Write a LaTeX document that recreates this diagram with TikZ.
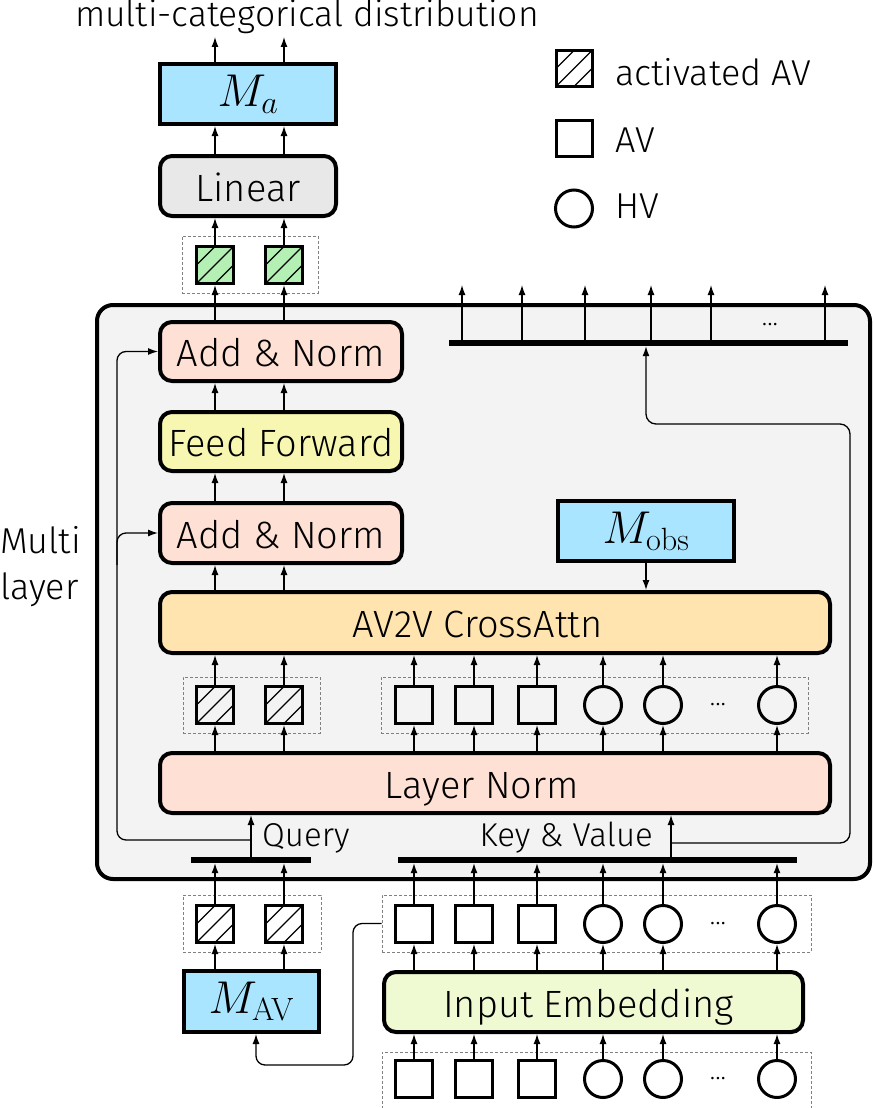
\RequirePackage{fix-cm}
\documentclass[tikz,border=0pt]{standalone}
\usepackage[no-math]{fontspec}
\setmainfont{Fira Sans Light}
\usetikzlibrary{arrows.meta,calc}
\definecolor{mblue}{HTML}{A9E5FF}
\definecolor{lingray}{HTML}{E8E8E8}
\definecolor{normpink}{HTML}{FFE0D5}
\definecolor{ffyellow}{HTML}{F7F7B2}
\definecolor{caorange}{HTML}{FFE4B0}
\definecolor{embgreen}{HTML}{F0FAD2}
\definecolor{hgreen}{HTML}{B4F0B4}
\definecolor{bgray}{HTML}{F3F3F3}
\newcommand{\boxfont}{\fontsize{38}{42}\selectfont}
\newcommand{\smallfont}{\fontsize{33}{38}\selectfont}
\newcommand{\mathfont}{\fontsize{46}{50}\selectfont}
\tikzset{
  blk/.style={draw, line width=4pt, rounded corners=12pt, inner sep=0pt, font=\boxfont, text height=30pt, text depth=0pt},
  mbox/.style={draw, line width=4pt, fill=mblue, inner sep=0pt, font=\mathfont},
  avsq/.style={draw, line width=3pt, minimum size=37pt, inner sep=0pt},
  hvc/.style={draw, circle, line width=3pt, minimum size=37pt, inner sep=0pt},
  actv/.style={avsq, path picture={
    \draw[line width=1.3pt] (path picture bounding box.south west) -- (path picture bounding box.north east);
    \draw[line width=1.3pt] ($(path picture bounding box.south west)!0.5!(path picture bounding box.north west)$) -- ($(path picture bounding box.north west)!0.5!(path picture bounding box.north east)$);
    \draw[line width=1.3pt] ($(path picture bounding box.south west)!0.5!(path picture bounding box.south east)$) -- ($(path picture bounding box.south east)!0.5!(path picture bounding box.north east)$);
  }},
  grp/.style={draw=gray, line width=0.8pt, dash pattern=on 3pt off 2pt, inner sep=0pt},
  arr/.style={line width=1.3pt, -{Latex[length=10pt,width=7pt]}},
  bar/.style={fill=black, inner sep=0pt, minimum height=6pt},
  dots/.style={font=\fontsize{26}{30}\selectfont, inner sep=0pt},
}
\begin{document}
\begin{tikzpicture}[x=1pt,y=-1pt]
\useasboundingbox (0,0) rectangle (874,1108);

% multi-layer container
\node[draw, line width=4pt, rounded corners=16pt, fill=bgray, minimum width=773pt, minimum height=574pt, inner sep=0pt] (ml) at (483.5,592) {};

% title and labels
\node[anchor=base, inner sep=0pt, font=\fontsize{35.5}{40}\selectfont] (title) at (307,27) {multi-categorical distribution};
\node[anchor=base west, inner sep=0pt, font=\fontsize{36}{40}\selectfont] (mlt1) at (0,553) {Multi};
\node[anchor=base west, inner sep=0pt, font=\fontsize{36}{40}\selectfont] (mlt2) at (0,599) {layer};

% legend
\node[actv, minimum size=36pt] (lg1) at (574,68.5) {};
\node[avsq, minimum size=36pt] (lg2) at (574,138) {};
\node[hvc, minimum size=37pt] (lg3) at (574,208.5) {};
\node[anchor=base west, inner sep=0pt, font=\fontsize{36}{40}\selectfont] (lt1) at (615,85) {activated AV};
\node[anchor=base west, inner sep=0pt, font=\fontsize{36}{40}\selectfont] (lt2) at (615,152) {AV};
\node[anchor=base west, inner sep=0pt, font=\fontsize{36}{40}\selectfont] (lt3) at (615,218) {HV};

% dashed groups
\node[grp, minimum width=136pt, minimum height=57pt] (gtop) at (250,264.5) {};
\node[grp, minimum width=137pt, minimum height=56pt] (gml) at (251.5,705) {};
\node[grp, minimum width=427pt, minimum height=56pt] (gmr) at (594.5,705) {};
\node[grp, minimum width=138pt, minimum height=57pt] (gbl) at (252,923.5) {};
\node[grp, minimum width=429pt, minimum height=57pt] (gbr) at (596.5,923.5) {};
\node[grp, minimum width=429pt, minimum height=63pt] (gin) at (596.5,1083.5) {};

% main blocks
\node[mbox, minimum width=176pt, minimum height=60pt] (ma) at (248,94) {$M_a$};
\node[blk, fill=lingray, minimum width=176pt, minimum height=60pt] (lin) at (248,186) {Linear};
\node[blk, fill=normpink, minimum width=242pt, minimum height=59pt] (an1) at (281,351.5) {Add \& Norm};
\node[blk, fill=ffyellow, minimum width=242pt, minimum height=59pt] (ff) at (281,441.5) {Feed Forward};
\node[blk, fill=normpink, minimum width=242pt, minimum height=60pt] (an2) at (281,533) {Add \& Norm};
\node[mbox, minimum width=176pt, minimum height=60pt] (mobs) at (646,531) {$M_{\mathrm{obs}}$};
\node[blk, fill=caorange, minimum width=670pt, minimum height=61pt] (ca) at (495,622.5) {\hspace*{-17pt}AV2V CrossAttn\hspace*{17pt}};
\node[blk, fill=normpink, minimum width=670pt, minimum height=60pt] (lnorm) at (495,783) {\hspace*{-13pt}Layer Norm\hspace*{13pt}};
\node[mbox, minimum width=135pt, minimum height=61pt] (mav) at (251.5,1001.5) {$M_{\mathrm{AV}}$};
\node[blk, fill=embgreen, minimum width=419pt, minimum height=60pt] (ie) at (593.5,1002) {\hspace*{-5pt}Input Embedding\hspace*{5pt}};

% bars
\node[bar, minimum width=399pt] (tbar) at (648.5,343) {};
\node[bar, minimum width=120pt] (lbar) at (251,860) {};
\node[bar, minimum width=399pt] (rbar) at (597.5,860) {};

% top green squares
\node[actv, fill=hgreen] (g1) at (215,265) {};
\node[actv, fill=hgreen] (g2) at (284,265) {};

% rows of vectors
\foreach \r/\y in {m/705,b/924,i/1079}{
  \node[avsq] (\r k1) at (414,\y) {};
  \node[avsq] (\r k2) at (474,\y) {};
  \node[avsq] (\r k3) at (537,\y) {};
  \node[hvc] (\r k4) at (603,\y) {};
  \node[hvc] (\r k5) at (663,\y) {};
  \node[hvc] (\r k6) at (777,\y) {};
  \node[dots] (\r dots) at (718,\y) {...};
}
\foreach \r/\y in {m/705,b/924}{
  \node[actv] (\r q1) at (215,\y) {};
  \node[actv] (\r q2) at (284,\y) {};
}
\node[dots] (tdots) at (770,325) {...};

% labels
\node[anchor=base west, inner sep=0pt, font=\smallfont] (qlab) at (262,846) {Query};
\node[anchor=base east, inner sep=0pt, font=\smallfont] (kvlab) at (653,846) {Key \& Value};

% coordinates
\coordinate (u1) at (215,37);
\coordinate (u2) at (284,37);
\coordinate (kvx) at (671,860);
\coordinate (qb) at (251,840);
\coordinate (kb) at (671,843);
\coordinate (resx) at (117,0);
\coordinate (fbr) at (850,424);
\coordinate (fbx) at (646,424);
\coordinate (c1) at (353,1065);
\coordinate (c2) at (256,1065);

% top arrows
\draw[arr] (ma.north -| u1) -- (u1);
\draw[arr] (ma.north -| u2) -- (u2);
\foreach \n in {1,2}{
  \draw[arr] (lin.north -| g\n) -- (ma.south -| g\n);
  \draw[arr] (g\n.north) -- (lin.south -| g\n);
  \draw[arr] (an1.north -| g\n) -- (g\n.south);
  \draw[arr] (ff.north -| g\n) -- (an1.south -| g\n);
  \draw[arr] (an2.north -| g\n) -- (ff.south -| g\n);
  \draw[arr] (ca.north -| g\n) -- (an2.south -| g\n);
}
\draw[arr] (mobs.south -| fbx) -- (ca.north -| fbx);

% top bar outputs
\foreach \i/\x in {1/462,2/522,3/585,4/651,5/711,6/825}{
  \coordinate (o\i) at (\x,285);
  \draw[arr] (tbar.north -| o\i) -- (o\i);
}

% middle row
\foreach \n in {mq1,mq2,mk1,mk2,mk3,mk4,mk5,mk6}{
  \draw[arr] (\n.north) -- (ca.south -| \n.north);
  \draw[arr] (lnorm.north -| \n.south) -- (\n.south);
}

% query / key-value
\draw[arr] (lbar.north) -- (lnorm.south -| lbar.north);
\draw[arr] (rbar.north -| kvx) -- (lnorm.south -| kvx);

% residual connections
\draw[arr, rounded corners=9pt] (qb) -| (resx |- an1.west) -- (an1.west);
\draw[arr, rounded corners=9pt] (resx |- 0,565) |- (an2.west);
\draw[arr, rounded corners=10pt] (kb) -| (fbr) -- (fbx) -- (tbar.south -| fbx);

% bottom rows
\foreach \n in {1,2}{
  \draw[arr] (bq\n.north) -- (lbar.south -| bq\n.north);
  \draw[arr] (mav.north -| bq\n) -- (bq\n.south);
}
\foreach \n in {1,...,6}{
  \draw[arr] (bk\n.north) -- (rbar.south -| bk\n.north);
  \draw[arr] (ie.north -| bk\n) -- (bk\n.south);
  \draw[arr] (ik\n.north) -- (ie.south -| ik\n);
}
\draw[arr, rounded corners=9pt] (gbr.west) -| (c1) -- (c2) -- (mav.south -| c2);
\end{tikzpicture}
\end{document}
